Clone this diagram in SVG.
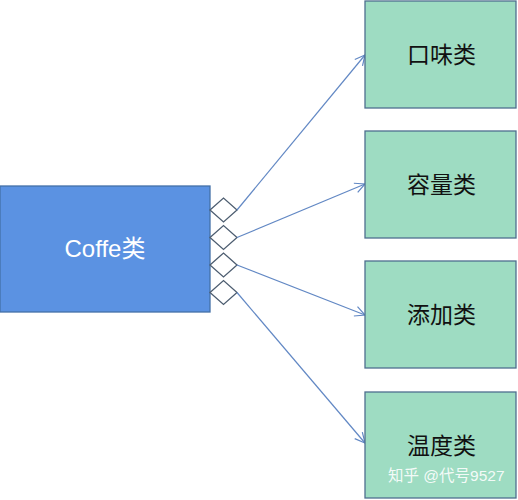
<svg xmlns="http://www.w3.org/2000/svg" width="518" height="500" viewBox="0 0 518 500">
<defs>
<style>
.green{fill:#9edcc2;stroke:#4f6f8f;stroke-width:1.3}
.blue{fill:#5b92e2;stroke:#4470a8;stroke-width:1.3}
.dia{fill:#ffffff;stroke:#4d5d70;stroke-width:1.3}
.lbl{font-family:"Liberation Sans","Noto Sans CJK SC",sans-serif;font-size:23px;text-anchor:middle;fill:#111111}
.conn{stroke:#6288c4;stroke-width:1.2;fill:none}
</style>
<marker id="arr" viewBox="0 0 12 12" refX="11" refY="6" markerWidth="12" markerHeight="12" markerUnits="userSpaceOnUse" orient="auto">
<path d="M1,1 L11,6 L1,11" fill="none" stroke="#6288c4" stroke-width="1.2"/>
</marker>
</defs>
<rect width="518" height="500" fill="#ffffff"/>
<g id="coffe">
<rect class="blue" x="0" y="186" width="210" height="126"/>
<text x="105" y="257" font-family="Liberation Sans,Noto Sans CJK SC,sans-serif" font-size="24" text-anchor="middle" fill="#ffffff">Coffe类</text>
</g>
<g id="diamonds">
<path class="dia" d="M210,210 L223.5,198 L237,210 L223.5,222 Z"/>
<path class="dia" d="M210,237.5 L223.5,225.5 L237,237.5 L223.5,249.5 Z"/>
<path class="dia" d="M210,265 L223.5,253 L237,265 L223.5,277 Z"/>
<path class="dia" d="M210,292.5 L223.5,280.5 L237,292.5 L223.5,304.5 Z"/>
</g>
<g id="connectors">
<line class="conn" x1="237" y1="210" x2="365" y2="55" marker-end="url(#arr)"/>
<line class="conn" x1="237" y1="237.5" x2="365" y2="184" marker-end="url(#arr)"/>
<line class="conn" x1="237" y1="265" x2="365" y2="315" marker-end="url(#arr)"/>
<line class="conn" x1="237" y1="292.5" x2="365" y2="443" marker-end="url(#arr)"/>
</g>
<g id="kouwei">
<rect class="green" x="365" y="1" width="151" height="107"/>
<text class="lbl" x="441.5" y="63">口味类</text>
</g>
<g id="rongliang">
<rect class="green" x="365" y="131" width="151" height="107"/>
<text class="lbl" x="441.5" y="193">容量类</text>
</g>
<g id="tianjia">
<rect class="green" x="365" y="261" width="151" height="107"/>
<text class="lbl" x="441.5" y="323">添加类</text>
</g>
<g id="wendu">
<rect class="green" x="365" y="392" width="151" height="106"/>
<text class="lbl" x="441.5" y="454">温度类</text>
<text x="388" y="481" font-family="Liberation Sans,Noto Sans CJK SC,sans-serif" font-size="15.5" fill="#ffffff" fill-opacity="0.9">知乎 @代号9527</text>
</g>
</svg>
